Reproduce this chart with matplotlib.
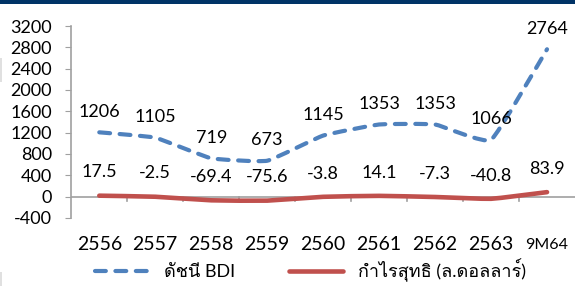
import numpy as np
import matplotlib
matplotlib.use("Agg")
import matplotlib.pyplot as plt
from matplotlib import font_manager
from matplotlib.ft2font import FT2Font
from matplotlib.path import Path
from matplotlib.patches import PathPatch, Rectangle
from matplotlib.lines import Line2D

years = ['2556', '2557', '2558', '2559', '2560', '2561', '2562', '2563', '9M64']
bdi = [1206, 1105, 719, 673, 1145, 1353, 1353, 1066, 2764]
profit = [17.5, -2.5, -69.4, -75.6, -3.8, 14.1, -7.3, -40.8, 83.9]
profit_labels = ['17.5', '-2.5', '-69.4', '-75.6', '-3.8', '14.1', '-7.3', '-40.8', '83.9']
yticks = [-400, 0, 400, 800, 1200, 1600, 2000, 2400, 2800, 3200]
legend_labels = ['ดัชนี BDI', 'กำไรสุทธิ (ล.ดอลลาร์)']

# find a font that has thai glyphs
thai_font = None
for f in font_manager.fontManager.ttflist:
    try:
        if 0x0E01 in FT2Font(f.fname).get_charmap():
            thai_font = f.name
            break
    except Exception:
        pass
fams = ['Lato', 'DejaVu Sans']
if thai_font:
    fams = ['Lato', thai_font, 'DejaVu Sans']

blue = '#4F81BD'
red = '#C0504D'
dash = (0, (2.6, 2.3))


def smooth_path(xs, ys, k=0.06):
    # excel-like smoothed line as bezier segments
    pts = list(zip(xs, ys))
    verts = [pts[0]]
    codes = [Path.MOVETO]
    n = len(pts)
    for i in range(n - 1):
        p0 = pts[i - 1] if i > 0 else pts[i]
        p1 = pts[i]
        p2 = pts[i + 1]
        p3 = pts[i + 2] if i + 2 < n else pts[i + 1]
        c1 = (p1[0] + (p2[0] - p0[0]) * k, p1[1] + (p2[1] - p0[1]) * k)
        c2 = (p2[0] - (p3[0] - p1[0]) * k, p2[1] - (p3[1] - p1[1]) * k)
        verts += [c1, c2, p2]
        codes += [Path.CURVE4] * 3
    return Path(verts, codes)


fig = plt.figure(figsize=(5.75, 2.86), dpi=100)
ax = fig.add_axes([0.124, 0.238, 0.876, 0.671])
x = np.arange(len(years))

ax.add_patch(PathPatch(smooth_path(x, bdi), fill=False, edgecolor=blue, lw=3.0,
                       linestyle=dash, capstyle='round'))
ax.add_patch(PathPatch(smooth_path(x, profit), fill=False, edgecolor=red, lw=3.3,
                       capstyle='round'))

ax.set_xlim(-0.5, len(years) - 0.5)
ax.set_ylim(-400, 3200)
ax.set_yticks(yticks)
ax.set_yticklabels([str(v) for v in yticks], fontsize=13, family=fams)
ax.tick_params(axis='y', length=4, color='#A0A0A0', pad=10)
ax.set_xticks([])
for s in ['top', 'right', 'bottom']:
    ax.spines[s].set_visible(False)
ax.spines['left'].set_color('#A0A0A0')
ax.spines['left'].set_linewidth(1.2)
ax.axhline(0, color='#A0A0A0', lw=1.2, zorder=0)
for b in np.arange(0.5, len(years) - 1, 1):
    ax.plot([b, b], [0, -75], color='#A0A0A0', lw=1.2, zorder=0)

for i, v in enumerate(bdi):
    ax.annotate(str(v), (i, v), xytext=(0, 9), textcoords='offset points',
                ha='center', va='bottom', fontsize=13, family=fams)
for i, v in enumerate(profit):
    ax.annotate(profit_labels[i], (i, v), xytext=(0, 11), textcoords='offset points',
                ha='center', va='bottom', fontsize=13, family=fams)

for i, lab in enumerate(years):
    ax.text(i, -900, lab, ha='center', va='center',
            fontsize=11.5 if lab == '9M64' else 14, family=fams)

handles = [Line2D([], [], color=blue, lw=3.0, linestyle=dash, dash_capstyle='round'),
           Line2D([], [], color=red, lw=3.3, solid_capstyle='round')]
fig.legend(handles, legend_labels, loc='center', bbox_to_anchor=(0.54, 0.056),
           ncol=2, frameon=False, prop={'family': fams, 'size': 13},
           handlelength=3.0, columnspacing=3.0, handletextpad=0.8,
           borderpad=0, borderaxespad=0)

fig.add_artist(Rectangle((0, 0.986), 1, 0.014, transform=fig.transFigure,
                         color='#003366', lw=0))
fig.add_artist(Rectangle((0, 0.713), 0.004, 0.084, transform=fig.transFigure,
                         color='#E0E0E0', lw=0))
fig.add_artist(Rectangle((0, 0), 0.004, 0.05, transform=fig.transFigure,
                         color='#E0E0E0', lw=0))

fig.savefig('out.png', dpi=100)
